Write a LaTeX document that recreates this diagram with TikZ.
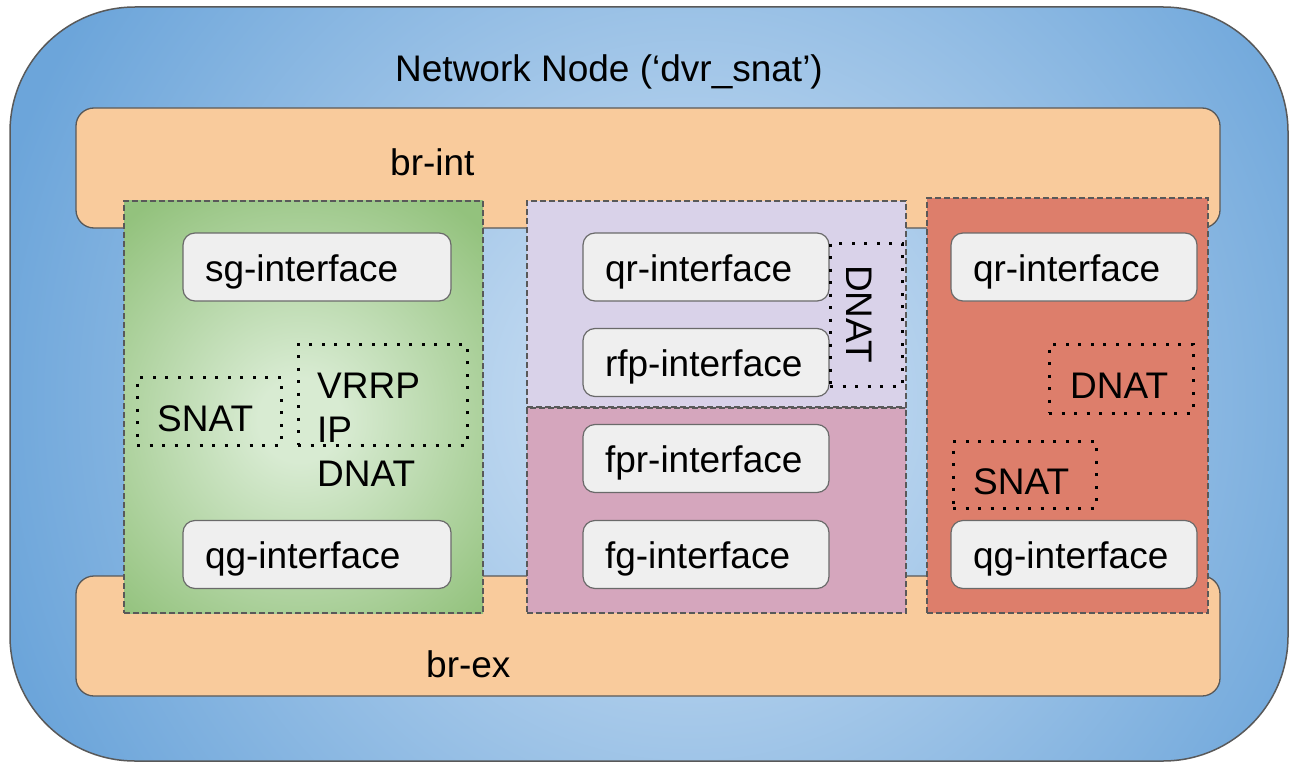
\documentclass[tikz,border=0pt]{standalone}
\usepackage{fontspec}
\setmainfont{Liberation Sans}
\definecolor{bin}{HTML}{BCD6EF}
\definecolor{bout}{HTML}{6CA5DA}
\definecolor{gin}{HTML}{D8EBD2}
\definecolor{gout}{HTML}{93C27D}
\definecolor{brfill}{HTML}{F9CB9C}
\definecolor{purp}{HTML}{D9D2E9}
\definecolor{pink}{HTML}{D5A6BD}
\definecolor{redb}{HTML}{DD7E6B}
\definecolor{iffill}{HTML}{EFEFEF}
\definecolor{edge}{HTML}{595959}
\pgfdeclareradialshading{bluebg}{\pgfpointorigin}{color(0bp)=(bin); color(5bp)=(bin); color(22.5bp)=(bout); color(50bp)=(bout)}
\pgfdeclareradialshading{greenbg}{\pgfpointorigin}{color(0bp)=(gin); color(3.5bp)=(gin); color(22bp)=(gout); color(50bp)=(gout)}
\tikzset{
  txt/.style={font=\fontsize{37}{44}\selectfont, inner sep=0pt, text=black},
  lab/.style={txt, anchor=base west},
  bridge/.style={draw=edge, fill=brfill, line width=1.3pt, rounded corners=18pt, inner sep=0pt},
  grp/.style={draw=edge, line width=1.3pt, dash pattern=on 6pt off 3pt, inner sep=0pt},
  iface/.style={txt, draw=edge!90, fill=iffill, line width=1.2pt, rounded corners=12pt,
    minimum height=68pt, inner xsep=22pt, text height=28pt, text depth=0pt, align=left},
  wideif/.style={iface, text width=224pt},
  narrowif/.style={iface, text width=202pt},
  dotbox/.style={draw=black, line width=3pt, dash pattern=on 3pt off 9.5pt, inner sep=0pt}
}
\begin{document}
\begin{tikzpicture}[x=1pt,y=-1pt]
\useasboundingbox (0,0) rectangle (1290,762);
% outer network node
\begin{scope}
  \clip[rounded corners=125pt] (10,7) rectangle (1288,761);
  \shade[shading=bluebg] (-110,-400) rectangle (1490,1200);
\end{scope}
\node[draw=edge, line width=1.5pt, rounded corners=125pt, minimum width=1278pt, minimum height=754pt, inner sep=0pt] (outer) at (649,384) {};
\node[lab] (title) at (395,82) {Network Node (‘dvr\_snat’)};
% bridges
\node[bridge, minimum width=1144pt, minimum height=120pt] (brint) at (648,168) {};
\node[lab] (brintlab) at (390,176) {br-int};
\node[bridge, minimum width=1144pt, minimum height=120pt] (brex) at (648,636) {};
\node[lab] (brexlab) at (426,677) {br-ex};
% green group
\begin{scope}
  \clip (124,201) rectangle (483,613);
  \shade[shading=greenbg] (0,120) rectangle (600,720);
\end{scope}
\node[grp, minimum width=359pt, minimum height=412pt] (green) at (303.5,407) {};
% middle groups
\node[grp, fill=purp, minimum width=379pt, minimum height=206pt] (purple) at (716.5,304) {};
\node[grp, fill=pink, minimum width=379pt, minimum height=205pt] (pinkbox) at (716.5,510.5) {};
% red group
\node[grp, fill=redb, minimum width=281pt, minimum height=415pt] (red) at (1067.5,405.5) {};
% interfaces
\node[wideif] (sg) at (317,267) {sg-interface};
\node[wideif] (qgg) at (317,554.5) {qg-interface};
\node[narrowif] (qrm) at (706,267) {qr-interface};
\node[narrowif] (rfp) at (706,362.5) {rfp-interface};
\node[narrowif] (fpr) at (706,458.5) {fpr-interface};
\node[narrowif] (fg) at (706,554.5) {fg-interface};
\node[narrowif] (qrr) at (1074,267) {qr-interface};
\node[narrowif] (qgr) at (1074,554.5) {qg-interface};
% dotted boxes
\node[dotbox, minimum width=144pt, minimum height=68pt] (snatgbox) at (209,411) {};
\node[dotbox, minimum width=169pt, minimum height=101pt] (vrrpbox) at (382.5,394.5) {};
\node[dotbox, minimum width=72pt, minimum height=143pt] (dnatmbox) at (866,314.5) {};
\node[dotbox, minimum width=144pt, minimum height=69pt] (dnatrbox) at (1121,378.5) {};
\node[dotbox, minimum width=143pt, minimum height=67pt] (snatrbox) at (1024.5,474.5) {};
% labels
\node[lab] (snatg) at (157,431) {SNAT};
\node[lab] (vrrp) at (317,398) {VRRP};
\node[lab] (ip) at (317,442) {IP};
\node[lab] (dnatg) at (317,486) {DNAT};
\node[txt, rotate=-90, text depth=0pt] (dnatm) at (859,314) {DNAT};
\node[lab] (dnatr) at (1070,398) {DNAT};
\node[lab] (snatr) at (973,494) {SNAT};
\end{tikzpicture}
\end{document}
